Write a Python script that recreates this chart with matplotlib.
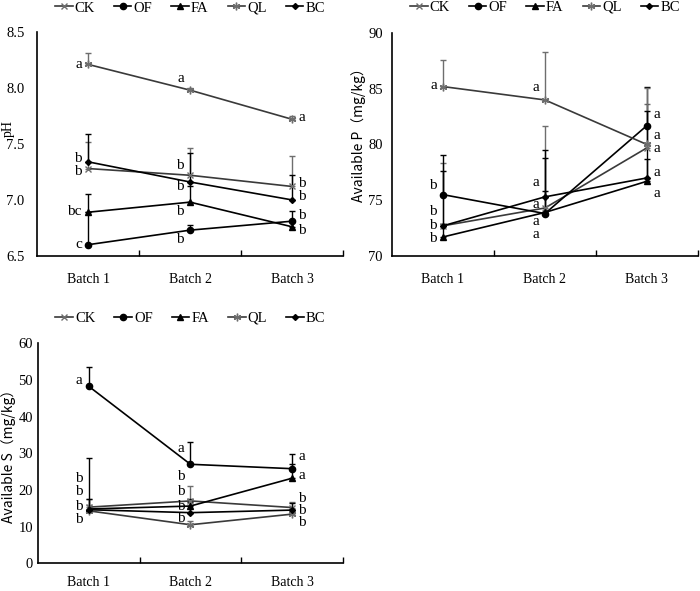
import numpy as np
import matplotlib
matplotlib.use('Agg')
import matplotlib.pyplot as plt
from matplotlib.lines import Line2D

plt.rcParams['font.family'] = ['Liberation Serif', 'DejaVu Serif']

batches = ['Batch 1', 'Batch 2', 'Batch 3']
treatments = ['CK', 'OF', 'FA', 'QL', 'BC']

# pH
ph_mean = {
    'CK': [7.28, 7.22, 7.12],
    'OF': [6.60, 6.73, 6.81],
    'FA': [6.89, 6.98, 6.76],
    'QL': [8.21, 7.98, 7.72],
    'BC': [7.34, 7.16, 7.00],
}
ph_err = {
    'CK': [0.24, 0.24, 0.27],
    'OF': [0.29, 0.05, 0.09],
    'FA': [0.16, 0.14, 0.05],
    'QL': [0.10, 0.02, 0.03],
    'BC': [0.25, 0.26, 0.22],
}
ph_letters = {
    'CK': ['b', 'b', 'b'],
    'OF': ['c', 'b', 'b'],
    'FA': ['bc', 'b', 'b'],
    'QL': ['a', 'a', 'a'],
    'BC': ['b', 'b', 'b'],
}
ph_letter_y = {
    'CK': [7.25, 7.31, 7.15],
    'OF': [6.60, 6.65, 6.86],
    'FA': [6.90, 6.90, 6.73],
    'QL': [8.21, 8.08, 7.74],
    'BC': [7.37, 7.12, 7.03],
}

# Available P
p_mean = {
    'CK': [72.7, 74.3, 79.7],
    'OF': [75.5, 73.8, 81.7],
    'FA': [71.7, 73.9, 76.7],
    'QL': [85.2, 84.0, 80.0],
    'BC': [72.7, 75.3, 77.0],
}
p_err = {
    'CK': [5.6, 7.4, 3.9],
    'OF': [3.6, 5.0, 3.5],
    'FA': [1.2, 1.9, 2.0],
    'QL': [2.4, 4.3, 5.1],
    'BC': [4.9, 4.2, 6.0],
}
p_letters = {
    'CK': ['b', 'a', 'a'],
    'OF': ['b', 'a', 'a'],
    'FA': ['b', 'a', 'a'],
    'QL': ['a', 'a', 'a'],
    'BC': ['b', 'a', 'a'],
}
p_letter_y = {
    'CK': [74.0, 74.6, 79.6],
    'OF': [76.3, 73.1, 82.7],
    'FA': [71.6, 71.9, 75.6],
    'QL': [85.3, 85.1, 80.8],
    'BC': [72.7, 76.6, 77.5],
}

# Available S
s_mean = {
    'CK': [15.3, 17.0, 15.2],
    'OF': [48.3, 27.0, 25.8],
    'FA': [14.8, 15.6, 23.2],
    'QL': [14.3, 10.5, 13.4],
    'BC': [14.6, 13.8, 14.5],
}
s_err = {
    'CK': [2.2, 4.0, 1.5],
    'OF': [5.2, 6.0, 4.0],
    'FA': [14.0, 2.0, 4.0],
    'QL': [1.5, 1.0, 1.5],
    'BC': [2.8, 3.0, 2.0],
}
s_letters = {
    'CK': ['b', 'b', 'b'],
    'OF': ['a', 'a', 'a'],
    'FA': ['b', 'b', 'a'],
    'QL': ['b', 'b', 'b'],
    'BC': ['b', 'b', 'b'],
}
s_letter_y = {
    'CK': [19.5, 19.5, 17.6],
    'OF': [49.8, 31.4, 29.2],
    'FA': [23.1, 23.7, 24.0],
    'QL': [11.8, 12.2, 11.1],
    'BC': [15.4, 15.4, 14.3],
}

styles = {
    'CK': dict(color='#6e6e6e', marker='x', ms=4.5, mew=1.0),
    'OF': dict(color='black', marker='o', ms=4.5, mew=1.0),
    'FA': dict(color='black', marker='^', ms=4, mew=1.0),
    'QL': dict(color='#6e6e6e', marker=(6, 2, 0), ms=5.5, mew=1.0),
    'BC': dict(color='black', marker='D', ms=3, mew=1.0),
}

x = np.arange(3) + 0.5


def draw_panel(ax, means, errs, letters, letter_y, ylim, yticks, ylabel, ylabel_font,
               label_x, label_y, legend_y, xpad, ypad):
    for t in treatments:
        st = styles[t]
        line_color = 'black' if t not in ('CK', 'QL') else '#3a3a3a'
        ax.errorbar(x, means[t], yerr=[np.zeros(3), errs[t]], fmt='none',
                    ecolor=st['color'], elinewidth=1.0, capsize=2.5, capthick=1.0, zorder=2)
        ax.plot(x, means[t], color=line_color, lw=1.2, marker=st['marker'],
                ms=st['ms'], mew=st['mew'], mfc=st['color'], mec=st['color'], zorder=3)
        for i in range(3):
            if i == 2:
                ax.text(x[i] + 0.06, letter_y[t][i], letters[t][i], ha='left', va='center',
                        fontsize=11)
            else:
                ax.text(x[i] - 0.06, letter_y[t][i], letters[t][i], ha='right', va='center',
                        fontsize=11)
    ax.set_xlim(0, 3)
    ax.set_ylim(*ylim)
    ax.set_yticks(yticks)
    ax.set_yticklabels([f'{v:g}' if ylim[1] > 20 else f'{v:.1f}' for v in yticks], fontsize=10.5)
    ax.set_xticks([1, 2, 3])
    ax.set_xticklabels([])
    ax.set_xticks(x, minor=True)
    ax.set_xticklabels(batches, minor=True, fontsize=10)
    ax.tick_params(axis='x', which='major', direction='in', length=4, width=1)
    ax.tick_params(axis='x', which='minor', length=0, pad=xpad)
    ax.tick_params(axis='y', length=0, pad=ypad)
    for s in ('top', 'right'):
        ax.spines[s].set_visible(False)
    for s in ('left', 'bottom'):
        ax.spines[s].set_linewidth(1.2)
    ax.set_ylabel(ylabel, family=ylabel_font, fontsize=10)
    ax.yaxis.set_label_coords(label_x, label_y)

    handles = []
    for t in treatments:
        st = styles[t]
        lc = 'black' if t not in ('CK', 'QL') else '#3a3a3a'
        handles.append(Line2D([0], [0], color=lc, lw=1.2, marker=st['marker'],
                              ms=st['ms'], mew=st['mew'], mfc=st['color'], mec=st['color']))
    ax.legend(handles, treatments, loc='center', bbox_to_anchor=(0.5, legend_y),
              ncol=5, frameon=False, fontsize=10.5, handlelength=1.2, handletextpad=0.15,
              columnspacing=1.3, borderaxespad=0, borderpad=0)


fig = plt.figure(figsize=(7, 5.91), dpi=100)
ax1 = fig.add_axes([0.053, 0.567, 0.437, 0.379])
ax2 = fig.add_axes([0.560, 0.567, 0.437, 0.377])
ax3 = fig.add_axes([0.054, 0.047, 0.436, 0.372])

draw_panel(ax1, ph_mean, ph_err, ph_letters, ph_letter_y, (6.5, 8.5),
           [6.5, 7.0, 7.5, 8.0, 8.5], 'pH', ['Liberation Serif'], -0.072, 0.57, 1.107, 12, 9)
draw_panel(ax2, p_mean, p_err, p_letters, p_letter_y, (70, 90),
           [70, 75, 80, 85, 90], 'Available P（mg/kg）', ['Noto Sans CJK SC', 'DejaVu Sans'],
           -0.085, 0.56, 1.117, 12, 6.5)
draw_panel(ax3, s_mean, s_err, s_letters, s_letter_y, (0, 60),
           [0, 10, 20, 30, 40, 50, 60], 'Available S（mg/kg）', ['Noto Sans CJK SC', 'DejaVu Sans'],
           -0.072, 0.5, 1.114, 9, 3.5)

fig.savefig('out.png', dpi=100)
